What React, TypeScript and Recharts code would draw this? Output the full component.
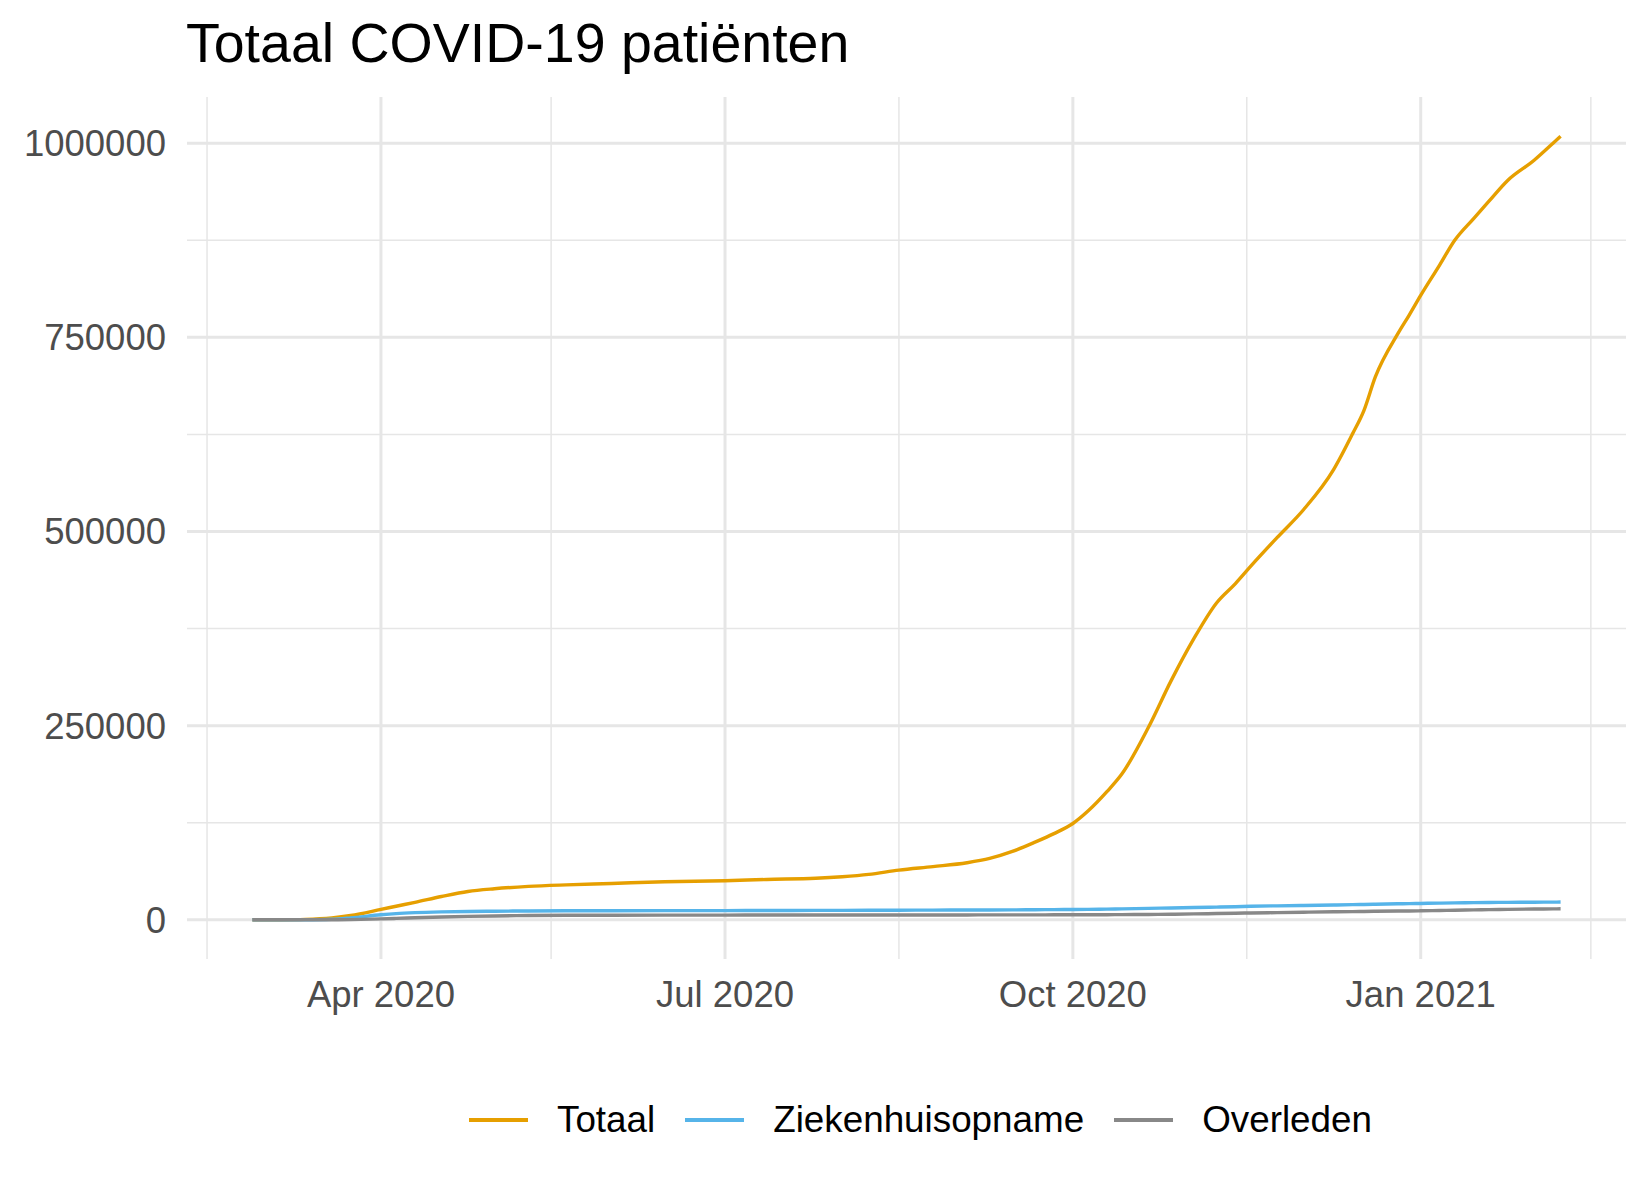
import React from 'react';
import { LineChart, Line, XAxis, YAxis, ReferenceLine } from 'recharts';

const DATES = [
  '2020-02-27', '2020-03-05', '2020-03-12', '2020-03-19', '2020-03-24',
  '2020-04-01', '2020-04-05', '2020-04-10', '2020-04-17', '2020-04-24',
  '2020-05-01', '2020-05-10', '2020-05-20', '2020-06-01', '2020-06-15',
  '2020-07-01', '2020-07-12', '2020-07-25', '2020-08-01', '2020-08-08',
  '2020-08-16', '2020-08-25', '2020-09-03', '2020-09-09', '2020-09-15',
  '2020-09-21', '2020-09-26', '2020-10-01', '2020-10-05', '2020-10-10',
  '2020-10-14', '2020-10-21', '2020-10-27', '2020-11-02', '2020-11-08',
  '2020-11-13', '2020-11-17', '2020-11-24', '2020-12-01', '2020-12-09',
  '2020-12-14', '2020-12-17', '2020-12-20', '2020-12-26', '2020-12-29',
  '2021-01-01', '2021-01-06', '2021-01-10', '2021-01-15', '2021-01-19',
  '2021-01-24', '2021-01-31', '2021-02-05', '2021-02-07',
];

const TOTAAL = [
  0, 100, 600, 2500, 5500,
  13400, 17500, 22500, 30000, 36500,
  40000, 43000, 45000, 46800, 49000,
  50300, 52000, 53500, 55500, 58500,
  64000, 68500, 73500, 79000, 88000,
  100000, 111000, 124000, 140000, 165000,
  188000, 248000, 308000, 362000, 408000,
  433000, 455000, 492000, 528000, 580000,
  626000, 656000, 699000, 755000, 779000,
  804000, 843000, 875000, 903000, 925000,
  952000, 978000, 1000000, 1009000,
];

const ZIEKENHUIS = [
  0, 0, 100, 700, 2500,
  6500, 8000, 9200, 10200, 10800,
  11100, 11400, 11600, 11700, 11800,
  11900, 12000, 12100, 12200, 12300,
  12400, 12500, 12600, 12700, 12800,
  13000, 13150, 13300, 13500, 13800,
  14100, 14700, 15300, 15800, 16400,
  16900, 17400, 18000, 18500, 19100,
  19500, 19800, 20100, 20600, 20800,
  21100, 21500, 21800, 22100, 22300,
  22500, 22700, 22800, 22900,
];

const OVERLEDEN = [
  0, 0, 5, 60, 300,
  1200, 1800, 2600, 3600, 4400,
  5000, 5500, 5800, 5950, 6050,
  6100, 6150, 6150, 6200, 6200,
  6200, 6250, 6300, 6330, 6350,
  6400, 6450, 6500, 6550, 6600,
  6700, 6900, 7200, 7600, 8100,
  8500, 8800, 9300, 9800, 10300,
  10600, 10800, 11000, 11300, 11400,
  11600, 12000, 12400, 12800, 13100,
  13500, 13900, 14100, 14200,
];

const X_TICKS = ['2020-04-01', '2020-07-01', '2020-10-01', '2021-01-01'];
const X_MINOR = ['2020-02-15', '2020-05-16', '2020-08-16', '2020-11-16', '2021-02-15'];
const Y_TICKS = [0, 250000, 500000, 750000, 1000000];
const Y_MINOR = [125000, 375000, 625000, 875000];
const MONTHS = ['Jan', 'Feb', 'Mar', 'Apr', 'May', 'Jun', 'Jul', 'Aug', 'Sep', 'Oct', 'Nov', 'Dec'];

const SERIES = [
  { key: 'totaal', name: 'Totaal', color: '#E69F00' },
  { key: 'ziekenhuis', name: 'Ziekenhuisopname', color: '#56B4E9' },
  { key: 'overleden', name: 'Overleden', color: '#888888' },
];

const toTime = (s: string) => Date.parse(s + 'T00:00:00Z');

const chartData = DATES.map((d, i) => ({
  t: toTime(d),
  totaal: TOTAAL[i],
  ziekenhuis: ZIEKENHUIS[i],
  overleden: OVERLEDEN[i],
}));

// ggplot-style 5% expansion on both axes
const tMin = toTime(DATES[0]);
const tMax = toTime(DATES[DATES.length - 1]);
const tPad = (tMax - tMin) * 0.05;
const yMax = Math.max(...TOTAAL);
const yPad = yMax * 0.05;

const FONT = '"Liberation Sans", Arial, Helvetica, sans-serif';
const GRID = '#E6E6E6';

const formatDate = (v: number) => {
  const d = new Date(v);
  return `${MONTHS[d.getUTCMonth()]} ${d.getUTCFullYear()}`;
};

export default function App() {
  return (
    <div
      style={{
        position: 'absolute',
        left: 0,
        top: 0,
        width: 1650,
        height: 1200,
        background: '#fff',
        fontFamily: FONT,
      }}
    >
      <div
        style={{
          position: 'absolute',
          left: 186,
          top: 12,
          fontSize: 55.5,
          lineHeight: '62px',
          color: '#000',
          whiteSpace: 'nowrap',
        }}
      >
        Totaal COVID-19 patiënten
      </div>

      <LineChart
        width={1650}
        height={1200}
        data={chartData}
        margin={{ top: 97, right: 24, bottom: 161, left: 27 }}
      >
        {/* minor grid first, then major */}
        {X_MINOR.map((d) => (
          <ReferenceLine key={d} x={toTime(d)} stroke={GRID} strokeWidth={1.5} />
        ))}
        {Y_MINOR.map((v) => (
          <ReferenceLine key={v} y={v} stroke={GRID} strokeWidth={1.5} />
        ))}
        {X_TICKS.map((d) => (
          <ReferenceLine key={d} x={toTime(d)} stroke={GRID} strokeWidth={3} />
        ))}
        {Y_TICKS.map((v) => (
          <ReferenceLine key={v} y={v} stroke={GRID} strokeWidth={3} />
        ))}
        <XAxis
          dataKey="t"
          type="number"
          scale="linear"
          domain={[tMin - tPad, tMax + tPad]}
          allowDataOverflow
          ticks={X_TICKS.map(toTime)}
          tickFormatter={formatDate}
          axisLine={false}
          tickLine={false}
          tickSize={0}
          tickMargin={22}
          height={80}
          tick={{ fill: '#4D4D4D', fontSize: 36.5, fontFamily: FONT }}
        />
        <YAxis
          type="number"
          domain={[-yPad, yMax + yPad]}
          allowDataOverflow
          ticks={Y_TICKS}
          tickFormatter={(v) => String(v)}
          axisLine={false}
          tickLine={false}
          tickSize={0}
          tickMargin={21}
          width={160}
          tick={{ fill: '#4D4D4D', fontSize: 36.5, fontFamily: FONT }}
        />
        {SERIES.map((s) => (
          <Line
            key={s.key}
            dataKey={s.key}
            name={s.name}
            type="monotone"
            stroke={s.color}
            strokeWidth={3.4}
            dot={false}
            activeDot={false}
            isAnimationActive={false}
          />
        ))}
      </LineChart>

      <div
        style={{
          position: 'absolute',
          left: 469,
          top: 1096,
          height: 48,
          display: 'flex',
          alignItems: 'center',
          fontSize: 36.8,
          color: '#000',
          whiteSpace: 'nowrap',
        }}
      >
        {SERIES.map((s) => (
          <div key={s.key} style={{ display: 'flex', alignItems: 'center', marginRight: 30 }}>
            <div style={{ width: 59, height: 4, background: s.color, marginRight: 29 }} />
            <span>{s.name}</span>
          </div>
        ))}
      </div>
    </div>
  );
}
